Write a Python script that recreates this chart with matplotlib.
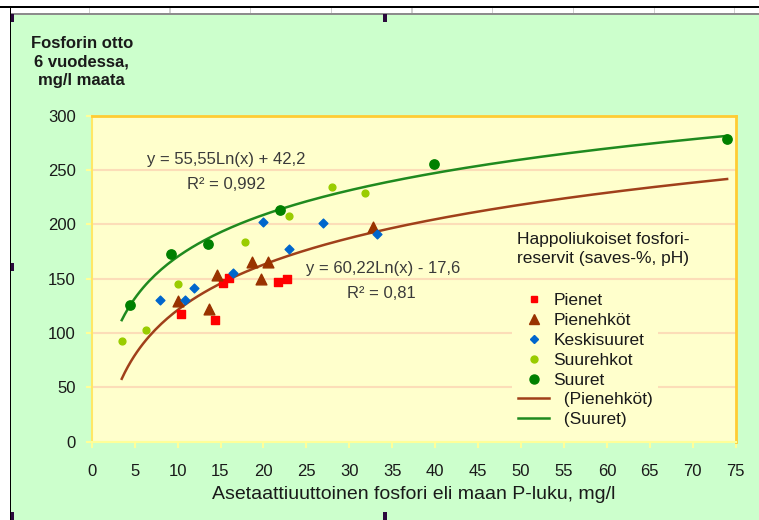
import numpy as np
import matplotlib
matplotlib.use("Agg")
import matplotlib.pyplot as plt
from matplotlib.patches import Rectangle
from matplotlib.lines import Line2D

plt.rcParams['font.family'] = ['Liberation Sans', 'DejaVu Sans']

# data
pienet_x = [10.4, 14.4, 15.3, 16.0, 21.7, 22.8]
pienet_y = [117, 112, 146, 151, 147, 150]

pienehkot_x = [10.0, 13.7, 14.6, 18.7, 19.7, 20.5, 32.8]
pienehkot_y = [129, 122, 153, 165, 150, 165, 197]

keski_x = [8.0, 10.9, 11.9, 16.5, 20.0, 23.0, 26.9, 33.2]
keski_y = [130, 130, 141, 155, 202, 177, 201, 191]

suurehkot_x = [3.5, 6.3, 10.1, 17.8, 23.0, 28.0, 31.8]
suurehkot_y = [93, 103, 145, 184, 208, 234, 229]

suuret_x = [4.5, 9.2, 13.5, 21.9, 39.9, 74.0]
suuret_y = [126, 173, 182, 213, 255, 278]

# trendlines y = a*ln(x) + b (Pienehköt, Suuret)
trend_a = [60.22, 55.55]
trend_b = [-17.6, 42.2]
trend_x = [3.5, 74.0]

x_ticks = list(range(0, 80, 5))
y_ticks = list(range(0, 350, 50))

W, H = 759, 520
fig = plt.figure(figsize=(W / 100, H / 100), dpi=100)
fig.patch.set_facecolor('#CCFFCC')

# window frame decorations
def px_rect(x0, y0, x1, y1, color, z=0):
    fig.patches.append(Rectangle((x0 / W, 1 - y1 / H), (x1 - x0) / W, (y1 - y0) / H,
                                 transform=fig.transFigure, facecolor=color,
                                 edgecolor='none', zorder=z))

px_rect(0, 0, W, 14, 'white')
px_rect(0, 0, 10, H, 'white')
for gx in [88.6, 169.3, 250, 330.7, 411.4, 492.1, 572.8, 653.5, 734.2]:
    px_rect(gx, 8, gx + 1.2, 13, '#D0D0D0', 1)
px_rect(10, 12.7, W, 14.5, '#8C8C8C', 1)
px_rect(0, 6, W, 8, 'black', 2)
px_rect(9.5, 6, 11.2, H, 'black', 2)
for hx, hy in [(10.5, 14), (383, 14), (10.5, 262.5), (10.5, 511.5), (383, 511.5)]:
    px_rect(hx, hy, hx + 4, hy + 8, '#2B0A3D', 3)

ax = fig.add_axes([91.7 / W, 1 - 441.7 / H, 644 / W, 326.2 / H])
ax.set_facecolor('#FFFFCC')
ax.set_xlim(0, 75)
ax.set_ylim(0, 300)
ax.set_xticks(x_ticks)
ax.set_yticks(y_ticks)
ax.grid(axis='y', color='#FCDDB8', lw=1.5)
ax.set_axisbelow(True)

ax.spines['left'].set_color('#FFE866')
ax.spines['bottom'].set_color('#FFFF99')
for s in ['left', 'bottom']:
    ax.spines[s].set_linewidth(1.5)
for s in ['top', 'right']:
    ax.spines[s].set_color('#FFCC33')
    ax.spines[s].set_linewidth(2)

ax.tick_params(axis='both', direction='out', color='#FFFF99', length=4, width=1.5,
               labelsize=12, labelcolor='#1A1A1A')
ax.tick_params(axis='y', pad=7.5)
ax.tick_params(axis='x', pad=12)

# trendlines
colors_line = ['#A0401A', '#1F8A1F']
for a, b, c in zip(trend_a, trend_b, colors_line):
    xs = np.linspace(trend_x[0], trend_x[1], 200)
    ax.plot(xs, a * np.log(xs) + b, color=c, lw=1.8, zorder=2)

ax.scatter(pienet_x, pienet_y, marker='s', s=30, color='#FF0000', zorder=3)
ax.scatter(pienehkot_x, pienehkot_y, marker='^', s=60, color='#993300', zorder=3)
ax.scatter(keski_x, keski_y, marker='D', s=20, color='#0066CC', zorder=3)
ax.scatter(suurehkot_x, suurehkot_y, marker='o', s=24, color='#99CC00', zorder=3)
ax.scatter(suuret_x, suuret_y, marker='o', s=45, color='#008000', zorder=3)

eq_color = '#3A3A3A'
ax.text(0.2096, 0.8657, 'y = 55,55Ln(x) + 42,2', transform=ax.transAxes, ha='center', va='center',
        fontsize=12, color=eq_color)
ax.text(0.2082, 0.787, 'R² = 0,992', transform=ax.transAxes, ha='center', va='center',
        fontsize=12, color=eq_color)
ax.text(0.452, 0.5316, 'y = 60,22Ln(x) - 17,6', transform=ax.transAxes, ha='center', va='center',
        fontsize=12, color=eq_color)
ax.text(0.4503, 0.455, 'R² = 0,81', transform=ax.transAxes, ha='center', va='center',
        fontsize=12, color=eq_color)

ax.set_xlabel('Asetaattiuuttoinen fosfori eli maan P-luku, mg/l', fontsize=14, color='#1A1A1A',
              labelpad=5)

fig.text(81.7 / W, 1 - 62 / H, 'Fosforin otto\n6 vuodessa,\nmg/l maata', ha='center', va='center',
         fontsize=12, fontweight='bold', color='#1A1A1A', linespacing=1.25)

fig.text(516.7 / W, 1 - 249 / H, 'Happoliukoiset fosfori-\nreservit (saves-%, pH)', ha='left',
         va='center', fontsize=12.5, color='#1A1A1A', linespacing=1.4)

handles = [
    Line2D([], [], ls='none', marker='s', ms=5, color='#FF0000'),
    Line2D([], [], ls='none', marker='^', ms=7.5, color='#993300'),
    Line2D([], [], ls='none', marker='D', ms=4.5, color='#0066CC'),
    Line2D([], [], ls='none', marker='o', ms=5, color='#99CC00'),
    Line2D([], [], ls='none', marker='o', ms=6.5, color='#008000'),
    Line2D([], [], color=colors_line[0], lw=1.8),
    Line2D([], [], color=colors_line[1], lw=1.8),
]
labels = ['Pienet', 'Pienehköt', 'Keskisuuret', 'Suurehkot', 'Suuret',
          '  (Pienehköt)', '  (Suuret)']
leg = ax.legend(handles, labels, loc='upper left', bbox_to_anchor=(512 / W, 1 - 287 / H),
                bbox_transform=fig.transFigure, frameon=True, facecolor='#FFFFCC',
                edgecolor='none', fancybox=False, framealpha=1, borderpad=0.35,
                borderaxespad=0, handlelength=1.8, handletextpad=0.25,
                labelspacing=0.27, fontsize=12.5)
for t in leg.get_texts():
    t.set_color('#1A1A1A')

fig.savefig('out.png', dpi=100, facecolor=fig.get_facecolor())
